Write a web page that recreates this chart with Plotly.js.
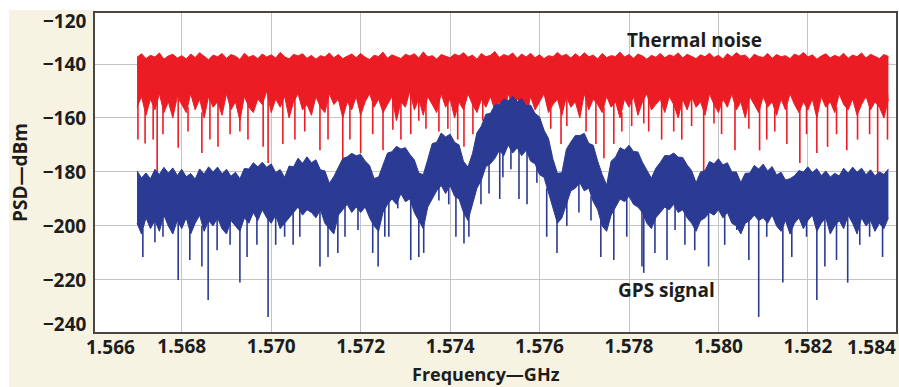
<!DOCTYPE html>
<html>
<head>
<meta charset="utf-8">
<script src="https://cdn.plot.ly/plotly-3.0.1.min.js"></script>
<style>
  html, body { margin: 0; padding: 0; background: #ffffff; }
  #chart { width: 899px; height: 387px; }
</style>
</head>
<body>
<div id="chart"></div>
<script>
// Spectrum bins: 0.1 MHz steps starting at 1567.0 MHz (169 bins, to 1583.8 MHz)
const binStartMHz = 1567.0;
const binStepMHz = 0.1;

// Thermal noise PSD (dBm): upper edge of the trace in each bin
const thermalPeak = [
  -137.5,-136.2,-138.0,-136.8,-137.4,-135.9,-138.2,-137.0,-136.4,-137.8,
  -136.9,-138.1,-136.3,-137.6,-135.8,-137.2,-138.4,-136.7,-137.3,-136.1,
  -137.9,-136.5,-137.1,-138.3,-136.0,-137.5,-136.8,-138.0,-136.3,-137.4,
  -136.6,-137.8,-135.7,-137.3,-138.1,-136.4,-137.0,-136.2,-137.9,-136.8,
  -138.2,-136.9,-137.4,-135.9,-137.7,-136.5,-138.0,-137.1,-136.3,-137.6,
  -136.1,-137.5,-138.3,-136.8,-137.2,-135.6,-137.9,-136.6,-137.3,-138.0,
  -136.4,-137.0,-136.2,-137.8,-135.5,-137.4,-136.9,-138.1,-136.5,-137.2,
  -137.7,-136.3,-137.0,-135.8,-137.5,-136.7,-138.2,-136.1,-137.3,-136.8,
  -135.4,-137.6,-136.5,-137.1,-135.9,-137.9,-136.3,-137.4,-136.0,-137.7,
  -136.6,-138.0,-136.9,-137.3,-135.7,-137.1,-136.4,-137.8,-136.2,-137.5,
  -135.8,-137.3,-136.7,-138.1,-136.1,-137.6,-136.9,-137.2,-135.6,-137.4,
  -136.5,-137.9,-136.3,-137.0,-138.2,-136.8,-137.5,-136.1,-137.7,-136.6,
  -137.2,-135.9,-137.8,-136.4,-137.1,-138.0,-136.6,-137.3,-136.0,-137.6,
  -136.8,-138.1,-136.2,-137.4,-135.8,-137.0,-136.7,-138.3,-136.4,-137.2,
  -137.6,-136.1,-137.9,-136.5,-137.3,-136.9,-138.0,-136.3,-137.1,-135.7,
  -137.4,-136.6,-138.2,-137.0,-136.2,-137.7,-136.8,-137.5,-136.0,-137.9,
  -136.7,-137.3,-135.9,-137.8,-136.4,-137.1,-138.0,-136.5,-137.2
];
// Thermal noise PSD (dBm): lower edge of the dense part of the trace
const thermalFloor = [
  -156,-152,-159,-153,-157,-151,-158,-154,-160,-152,
  -155,-158,-151,-157,-153,-160,-152,-156,-154,-159,
  -151,-157,-154,-161,-152,-156,-158,-153,-155,-150,
  -158,-153,-156,-152,-160,-154,-151,-157,-155,-159,
  -152,-156,-158,-151,-155,-153,-160,-154,-157,-152,
  -159,-154,-151,-156,-153,-158,-155,-152,-161,-154,
  -156,-150,-157,-153,-159,-152,-155,-158,-151,-156,
  -153,-160,-154,-157,-151,-155,-158,-153,-156,-152,
  -157,-154,-159,-151,-156,-153,-155,-160,-152,-157,
  -154,-151,-158,-155,-153,-159,-152,-156,-154,-160,
  -151,-157,-153,-155,-158,-152,-156,-154,-160,-153,
  -156,-152,-159,-154,-151,-157,-155,-153,-158,-152,
  -155,-160,-153,-157,-152,-156,-154,-159,-151,-155,
  -158,-153,-156,-151,-157,-154,-160,-152,-155,-158,
  -152,-156,-154,-159,-153,-157,-151,-155,-158,-154,
  -157,-153,-160,-152,-156,-154,-158,-151,-155,-157,
  -153,-159,-155,-152,-157,-154,-156,-160,-153
];
// Deep dips of the thermal noise trace
const thermalDipMHz = [
  1567.02,1567.18,1567.36,1567.45,1567.58,1567.92,1568.14,1568.45,1568.63,1568.81,
  1569.08,1569.30,1569.48,1569.82,1569.93,1570.26,1570.53,1570.75,1571.09,1571.27,
  1571.60,1571.76,1572.00,1572.27,1572.50,1572.72,1572.90,1573.12,1573.30,1573.46,
  1573.75,1573.95,1574.17,1574.31,1574.51,1574.73,1576.25,1576.48,1576.61,1577.04,
  1577.26,1577.44,1577.66,1577.84,1578.06,1578.33,1578.44,1578.73,1579.00,1579.18,
  1579.40,1579.67,1579.90,1580.07,1580.37,1580.68,1580.92,1581.08,1581.26,1581.53,
  1581.82,1581.97,1582.20,1582.44,1582.64,1582.87,1583.11,1583.38,1583.56,1583.78
];
const thermalDipDb = [
  -168,-169.5,-168,-180,-166,-171,-165,-173,-168,-170.7,
  -166,-165,-168,-170.7,-176.7,-169.6,-168,-165,-172,-168,
  -176.7,-168,-173,-166,-172,-164.4,-168,-166,-161,-164,
  -165,-164,-168,-170.7,-166,-161,-164,-169.6,-163,-165,
  -169.6,-174.9,-169.6,-165,-163,-162,-165,-168,-165,-168,
  -163,-180.4,-162,-166,-172,-164,-172,-168,-165,-169.6,
  -176.7,-166,-173,-170.7,-166,-172,-168,-166,-180.4,-168
];

// GPS signal PSD (dBm): upper edge of the trace in each bin
const gpsPeak = [
  -179.6,-182.2,-180.4,-182.5,-179.0,-180.9,-178.3,-180.4,-178.5,-181.3,
  -179.0,-181.8,-180.6,-182.6,-178.9,-180.8,-178.1,-180.0,-178.2,-180.7,
  -179.0,-181.6,-180.1,-182.5,-178.7,-178.9,-176.6,-178.1,-176.4,-178.3,
  -177.0,-180.2,-179.1,-182.0,-177.8,-178.1,-174.9,-176.8,-174.4,-176.6,
  -175.5,-179.2,-179.6,-184.2,-181.7,-178.4,-175.0,-174.4,-173.1,-174.0,
  -173.5,-175.9,-177.6,-182.4,-181.9,-177.4,-173.0,-172.5,-170.5,-171.5,
  -171.0,-173.5,-175.5,-180.4,-181.0,-175.4,-169.5,-169.0,-165.6,-167.0,
  -166.0,-169.0,-170.0,-176.1,-178.2,-173.2,-165.5,-163.0,-158.6,-158.3,
  -155.2,-155.0,-153.1,-153.5,-152.0,-153.9,-152.8,-155.4,-155.2,-158.3,
  -159.6,-164.5,-167.6,-175.3,-180.5,-180.3,-171.6,-168.9,-166.5,-166.5,
  -165.7,-169.4,-170.1,-176.0,-180.9,-184.9,-176.0,-174.5,-171.0,-171.9,
  -170.1,-172.4,-172.6,-176.4,-179.6,-182.3,-178.6,-176.5,-173.9,-174.0,
  -173.0,-174.5,-174.6,-177.4,-179.5,-184.0,-180.0,-179.5,-176.1,-177.0,
  -175.1,-177.4,-176.6,-180.0,-180.0,-183.9,-180.5,-180.4,-177.6,-178.9,
  -177.1,-179.6,-178.0,-181.1,-180.1,-183.0,-182.5,-181.4,-179.5,-180.0,
  -178.1,-180.2,-178.8,-181.3,-179.6,-181.9,-180.5,-181.5,-178.6,-180.5,
  -178.2,-180.1,-178.6,-181.0,-179.2,-181.4,-180.0,-180.9,-178.9
];
// GPS signal PSD (dBm): lower edge of the dense part of the trace
const gpsFloor = [
  -199,-203,-197,-201,-198,-202,-196,-200,-203,-198,
  -201,-197,-203,-199,-196,-202,-198,-200,-197,-201,
  -203,-198,-200,-202,-197,-199,-195,-198,-194,-197,
  -199,-196,-201,-199,-197,-195,-193,-196,-194,-195,
  -197,-194,-199,-201,-203,-196,-194,-192,-195,-193,
  -195,-193,-197,-200,-202,-195,-192,-190,-192,-188,
  -191,-190,-195,-198,-201,-193,-190,-187,-185,-188,
  -185,-189,-190,-195,-198,-192,-186,-183,-178,-177,
  -175,-172,-174,-170,-173,-171,-174,-172,-176,-177,
  -181,-182,-188,-194,-199,-197,-192,-187,-186,-184,
  -187,-186,-191,-194,-200,-202,-196,-193,-190,-191,
  -189,-192,-193,-195,-199,-201,-197,-195,-193,-194,
  -192,-195,-194,-197,-199,-202,-198,-197,-195,-196,
  -194,-197,-195,-199,-200,-203,-199,-198,-196,-198,
  -197,-199,-196,-200,-202,-198,-203,-199,-197,-201,
  -198,-196,-202,-199,-197,-203,-200,-198,-201,-196,
  -199,-203,-197,-200,-198,-202,-199,-201,-197
];
// Deep dips of the GPS signal trace
const gpsDipMHz = [
  1567.13,1567.40,1567.58,1567.92,1568.18,1568.45,1568.59,1568.79,1569.08,1569.30,
  1569.46,1569.68,1569.93,1570.10,1570.30,1570.49,1570.64,1571.09,1571.27,1571.49,
  1571.65,1571.94,1572.27,1572.39,1572.54,1572.63,1572.83,1573.12,1573.30,1573.41,
  1573.75,1573.97,1574.13,1574.31,1574.42,1574.69,1574.87,1575.11,1575.18,1575.36,
  1575.54,1575.72,1575.94,1576.16,1576.39,1576.61,1576.88,1577.15,1577.37,1577.66,
  1577.95,1578.29,1578.33,1578.58,1578.85,1579.03,1579.25,1579.47,1579.78,1580.14,
  1580.41,1580.68,1580.90,1581.08,1581.44,1581.64,1581.97,1582.20,1582.38,1582.64,
  1582.89,1583.16,1583.38,1583.67
];
const gpsDipDb = [
  -211.5,-206,-204,-220,-212.6,-215,-227.4,-209,-207,-221,
  -211.5,-207,-233.7,-207,-204,-207,-204,-215,-211.5,-210,
  -204,-201.5,-210,-215,-204,-204,-193.5,-212.6,-211.5,-210,
  -190.6,-192,-204,-206.5,-204,-192,-188,-190,-182,-179,
  -190,-192,-184,-204,-210,-200,-195,-198,-211.5,-212.6,
  -204,-215,-217.4,-210,-212.6,-201.5,-207,-209,-215,-207,
  -201.5,-212.6,-233.7,-204,-221,-211.5,-204,-227.4,-215,-212.6,
  -221,-207,-204,-211.5
];

// Axis tick labels
const freqTickVals = [1.568, 1.570, 1.572, 1.574, 1.576, 1.578, 1.580, 1.582];
const freqTickText = ['1.568', '1.570', '1.572', '1.574', '1.576', '1.578', '1.580', '1.582'];
const freqEndLabels = ['1.566', '1.584'];
const psdTickVals = [-140, -160, -180, -200, -220];
const psdTickText = ['\u2212140', '\u2212160', '\u2212180', '\u2212200', '\u2212220'];
const psdEndLabels = ['\u2212120', '\u2212240'];

const RED = '#ec1c24';
const BLUE = '#2b3a92';
const INK = '#1d1d1d';
const CREAM = '#f6f3e2';
const FONT = 'Open Sans, Liberation Sans, Arial, sans-serif';

// Vertical dip segments, each hanging from the band edge of its bin
function dipSegments(dipMHz, dipDb, floor) {
  const xs = [], ys = [];
  dipMHz.forEach(function (f, k) {
    let idx = Math.round((f - binStartMHz) / binStepMHz);
    idx = Math.max(0, Math.min(floor.length - 1, idx));
    xs.push(f / 1000, f / 1000, null);
    ys.push(floor[idx] + 2, dipDb[k], null);
  });
  return { x: xs, y: ys };
}

function band(values, color, fill) {
  return {
    type: 'scatter', mode: 'lines',
    x0: binStartMHz / 1000, dx: binStepMHz / 1000,
    y: values,
    line: { color: color, width: 1 },
    fill: fill ? 'tonexty' : 'none',
    fillcolor: color,
    hoverinfo: 'skip', showlegend: false
  };
}

const thermalDips = dipSegments(thermalDipMHz, thermalDipDb, thermalFloor);
const gpsDips = dipSegments(gpsDipMHz, gpsDipDb, gpsFloor);

const traces = [
  band(thermalFloor, RED, false),
  band(thermalPeak, RED, true),
  { type: 'scatter', mode: 'lines', x: thermalDips.x, y: thermalDips.y,
    line: { color: RED, width: 1.6 }, hoverinfo: 'skip', showlegend: false },
  band(gpsFloor, BLUE, false),
  band(gpsPeak, BLUE, true),
  { type: 'scatter', mode: 'lines', x: gpsDips.x, y: gpsDips.y,
    line: { color: BLUE, width: 1.6 }, hoverinfo: 'skip', showlegend: false }
];

const tickFont = { family: FONT, size: 19, color: INK, weight: 700 };
const labelFont = { family: FONT, size: 19, color: INK, weight: 700 };
const xTitleFont = { family: FONT, size: 18, color: INK, weight: 700 };

// Plot area spans x 95..896 px and y 13..332 px of the 899x387 page
const PL = 95, PR = 896, PT = 13, PB = 332;
function px2paperX(px) { return (px - PL) / (PR - PL); }
function px2paperY(py) { return (PB - py) / (PB - PT); }

const layout = {
  width: 899, height: 387,
  margin: { l: PL, r: 899 - PR, t: PT, b: 387 - PB, pad: 0 },
  paper_bgcolor: '#ffffff',
  plot_bgcolor: '#ffffff',
  font: { family: FONT, color: INK },
  showlegend: false,
  xaxis: {
    range: [1.56606, 1.58397],
    tickvals: freqTickVals, ticktext: freqTickText,
    ticks: '', tickfont: tickFont, ticklabelstandoff: -4,
    showgrid: true, gridcolor: '#c4c4c4', gridwidth: 1,
    zeroline: false,
    showline: true, linecolor: '#4b4641', linewidth: 2, mirror: true
  },
  yaxis: {
    range: [-239.3, -121.1],
    tickvals: psdTickVals, ticktext: psdTickText,
    ticks: 'outside', ticklen: 3, tickcolor: 'rgba(0,0,0,0)',
    tickfont: tickFont,
    showgrid: true, gridcolor: '#c4c4c4', gridwidth: 1,
    zeroline: false,
    showline: true, linecolor: '#4b4641', linewidth: 2, mirror: true,
    title: { text: 'PSD\u2014dBm', font: labelFont, standoff: 10 }
  },
  shapes: [
    { type: 'rect', xref: 'paper', yref: 'paper', layer: 'below',
      x0: px2paperX(9), x1: 0, y0: px2paperY(387), y1: px2paperY(10),
      fillcolor: CREAM, line: { width: 0 } },
    { type: 'rect', xref: 'paper', yref: 'paper', layer: 'below',
      x0: px2paperX(9), x1: px2paperX(899), y0: px2paperY(387), y1: 0,
      fillcolor: CREAM, line: { width: 0 } }
  ],
  annotations: [
    { x: px2paperX(110), y: px2paperY(347), xref: 'paper', yref: 'paper', text: freqEndLabels[0],
      showarrow: false, xanchor: 'center', yanchor: 'middle', font: tickFont },
    { x: px2paperX(898), y: px2paperY(347), xref: 'paper', yref: 'paper', text: freqEndLabels[1],
      showarrow: false, xanchor: 'right', yanchor: 'middle', font: tickFont },
    { x: px2paperX(89), y: px2paperY(21), xref: 'paper', yref: 'paper', text: psdEndLabels[0],
      showarrow: false, xanchor: 'right', yanchor: 'middle', font: tickFont },
    { x: px2paperX(89), y: px2paperY(324), xref: 'paper', yref: 'paper', text: psdEndLabels[1],
      showarrow: false, xanchor: 'right', yanchor: 'middle', font: tickFont },
    { x: px2paperX(486), y: px2paperY(374), xref: 'paper', yref: 'paper', text: 'Frequency\u2014GHz',
      showarrow: false, xanchor: 'center', yanchor: 'middle', font: xTitleFont },
    { x: 1.57946, y: -131.1, xref: 'x', yref: 'y', text: 'Thermal noise',
      showarrow: false, xanchor: 'center', yanchor: 'middle',
      font: { family: FONT, size: 19, color: INK, weight: 700 } },
    { x: 1.57884, y: -223.7, xref: 'x', yref: 'y', text: 'GPS signal',
      showarrow: false, xanchor: 'center', yanchor: 'middle',
      font: { family: FONT, size: 19, color: INK, weight: 700 } }
  ]
};

Plotly.newPlot('chart', traces, layout, { staticPlot: true, displayModeBar: false });
</script>
</body>
</html>
